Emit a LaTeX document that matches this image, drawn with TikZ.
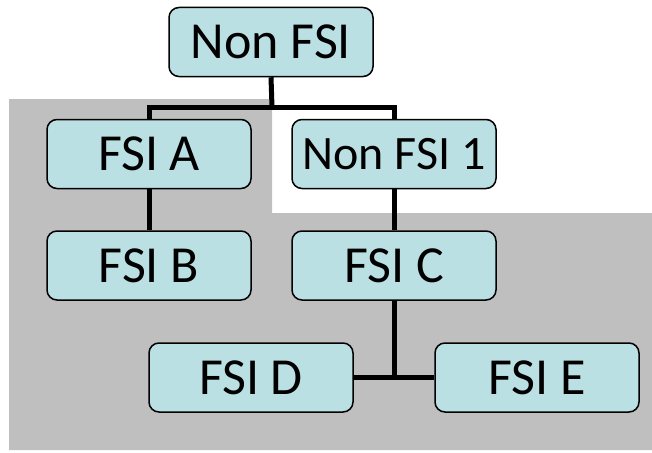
\documentclass[tikz,border=0pt]{standalone}
\usepackage{fontspec}
\setmainfont{Carlito}
\usetikzlibrary{backgrounds}
\definecolor{boxfill}{RGB}{187,224,227}
\definecolor{greyarea}{RGB}{191,191,191}
\begin{document}
\begin{tikzpicture}[x=1pt,y=-1pt,
  orgbox/.style={draw=black,line width=1.5pt,fill=boxfill,rounded corners=10pt,
    minimum width=204pt,minimum height=69pt,inner sep=0pt,font=\fontsize{52}{60}\selectfont},
  link/.style={line width=5pt}]
\useasboundingbox (0,0) rectangle (652,452);
\coordinate (bus) at (272,107);
\node[orgbox] (top) at (271,42) {Non FSI};
\node[orgbox] (a) at (149,154) {FSI A};
\node[orgbox,font=\fontsize{48}{56}\selectfont] (n1) at (394,154) {Non FSI 1};
\node[orgbox] (b) at (149,265.5) {FSI B};
\node[orgbox] (c) at (394,265.5) {FSI C};
\node[orgbox] (d) at (251,377.5) {FSI D};
\node[orgbox] (e) at (537,377.5) {FSI E};
\begin{scope}[on background layer]
\fill[greyarea] (9,99) -- (272,99) -- (272,213) -- (652,213) -- (652,450) -- (9,450) -- cycle;
\draw[link] (top.south) -- (bus);
\draw[link] (a.north) -- (a.north |- bus) -- (n1.north |- bus) -- (n1.north);
\draw[link] (a.south) -- (b.north);
\draw[link] (n1.south) -- (c.north);
\draw[link] (c.south) -- (c.south |- d.east);
\draw[link] (d.east) -- (e.west);
\end{scope}
\end{tikzpicture}
\end{document}
